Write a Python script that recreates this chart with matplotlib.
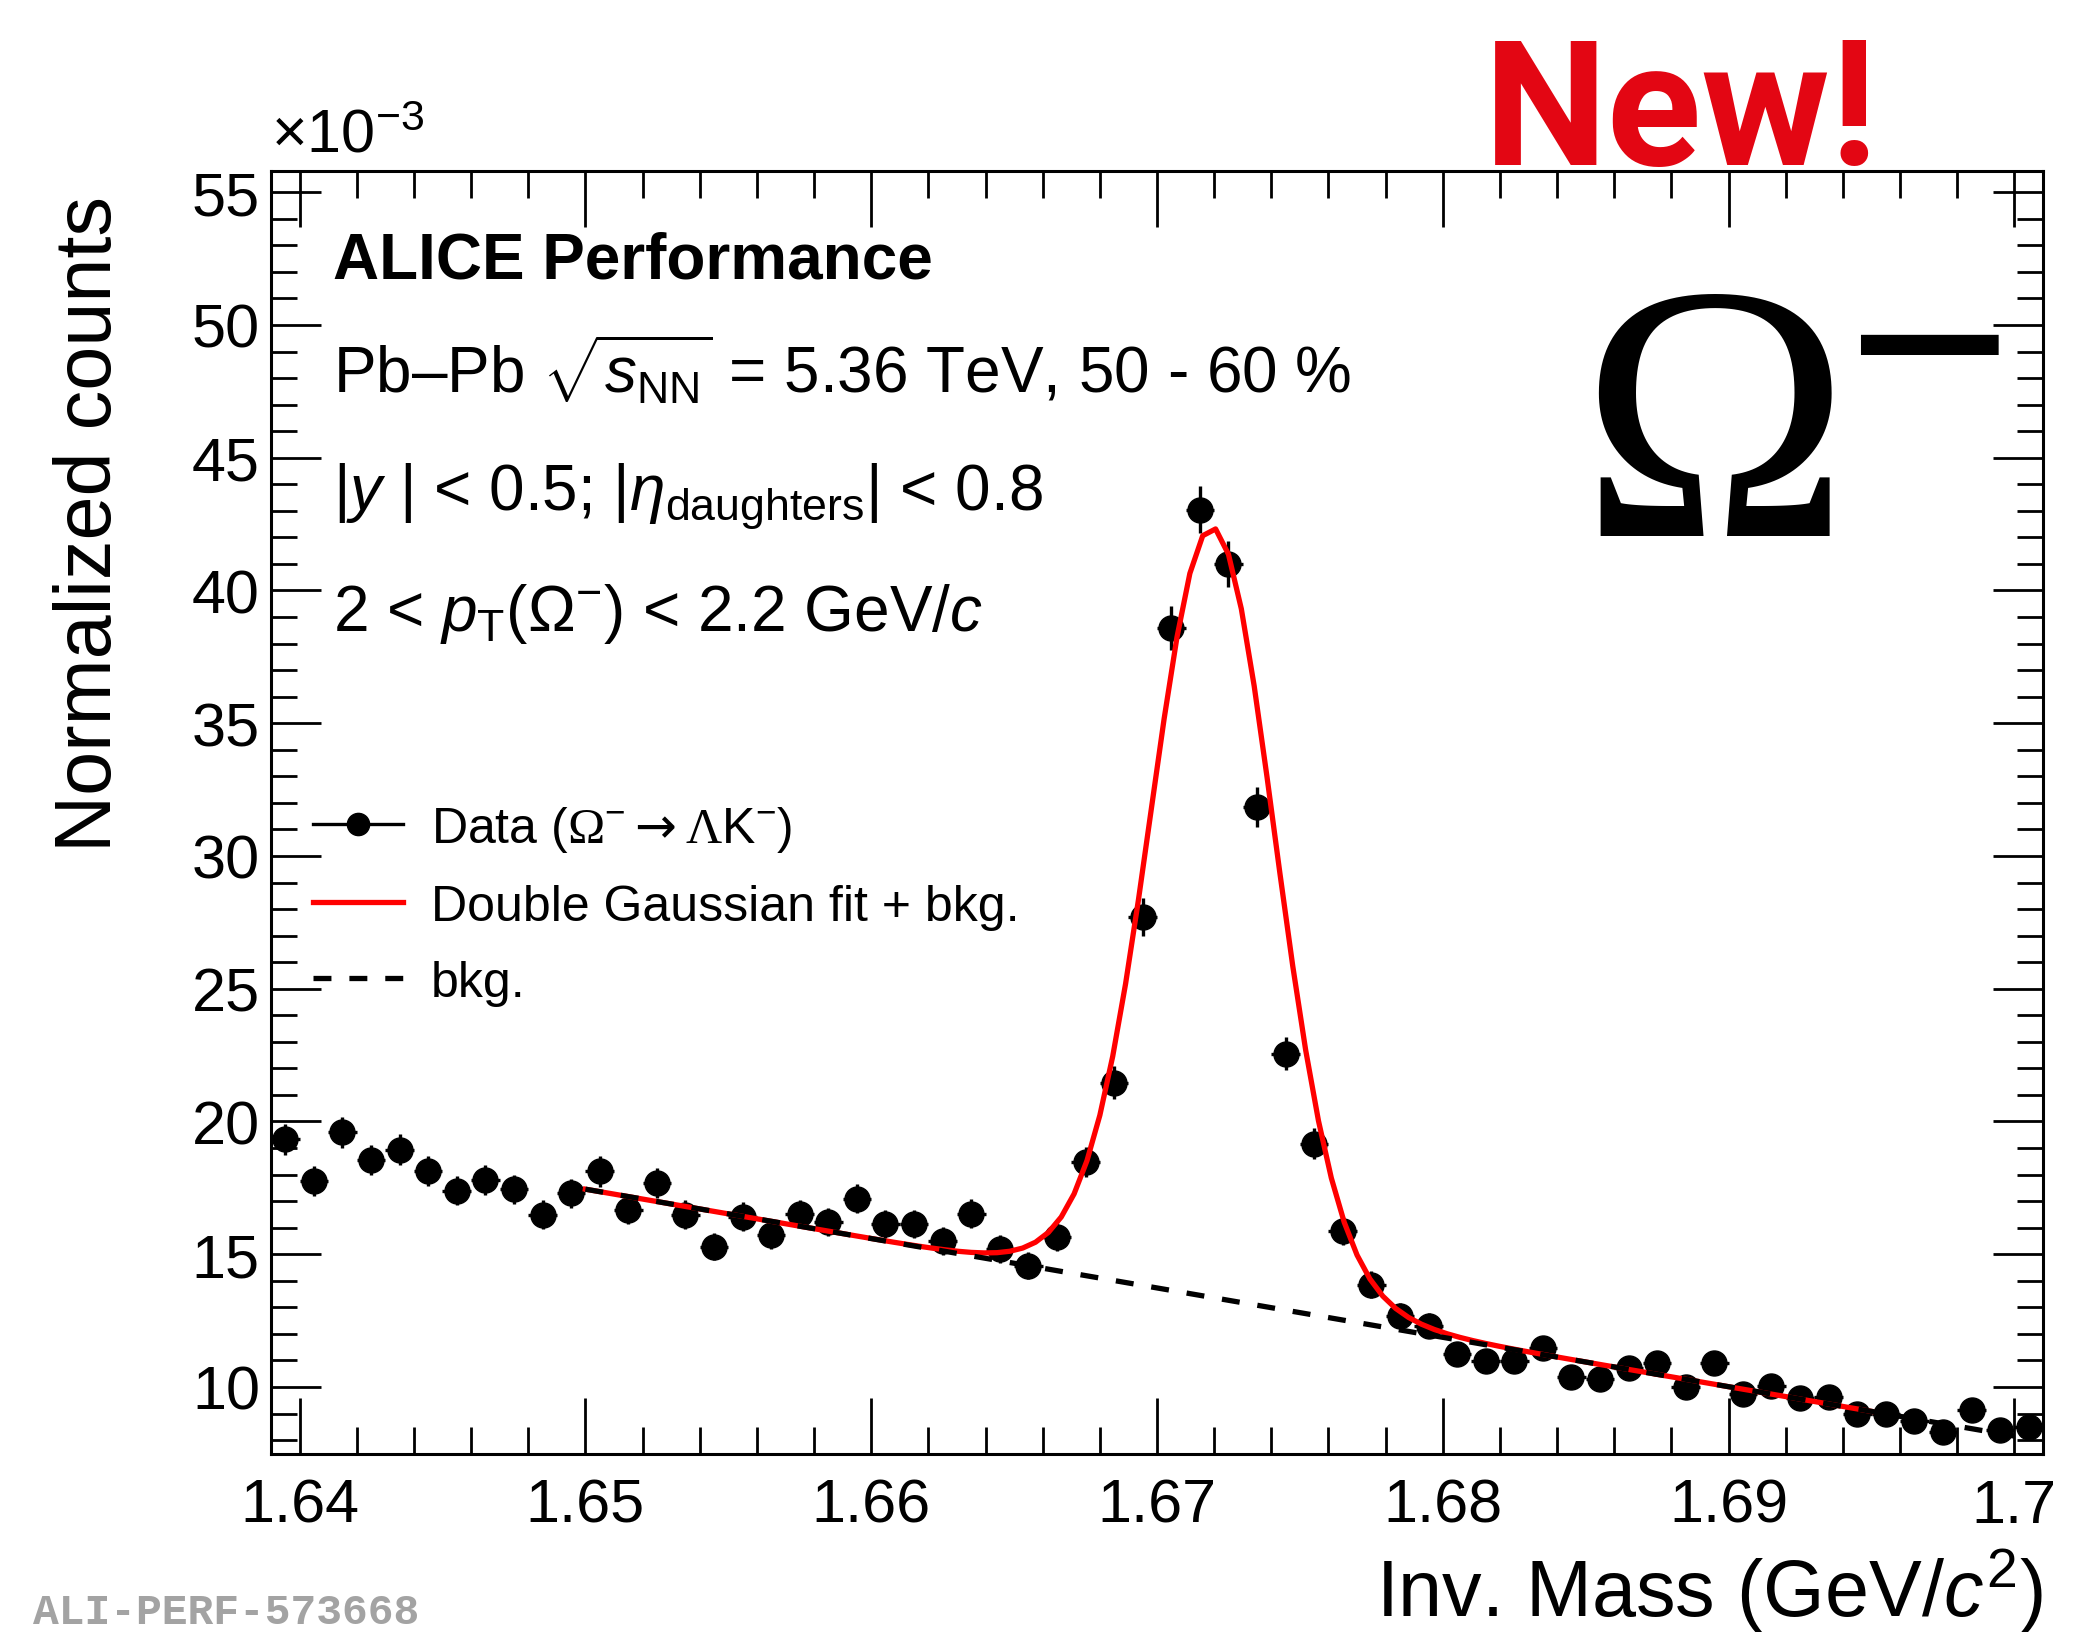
import numpy as np
import matplotlib
matplotlib.use("Agg")
import matplotlib.pyplot as plt
from matplotlib.lines import Line2D
from matplotlib.ticker import MultipleLocator, FormatStrFormatter

plt.rcParams['font.family'] = ['Liberation Sans', 'DejaVu Sans']
plt.rcParams['mathtext.fontset'] = 'custom'
plt.rcParams['mathtext.rm'] = 'Liberation Sans'
plt.rcParams['mathtext.it'] = 'Liberation Sans:italic'
plt.rcParams['mathtext.bf'] = 'Liberation Sans:bold'
plt.rcParams['mathtext.sf'] = 'Liberation Serif'
plt.rcParams['mathtext.cal'] = 'DejaVu Sans'

# --- invariant mass histogram (bin centres in GeV/c^2, counts x 1e-3) ---
mass = [1.6395, 1.6405, 1.6415, 1.6425, 1.6435, 1.6445, 1.6455, 1.6465,
        1.6475, 1.6485, 1.6495, 1.6505, 1.6515, 1.6525, 1.6535, 1.6545,
        1.6555, 1.6565, 1.6575, 1.6585, 1.6595, 1.6605, 1.6615, 1.6625,
        1.6635, 1.6645, 1.6655, 1.6665, 1.6675, 1.6685, 1.6695, 1.6705,
        1.6715, 1.6725, 1.6735, 1.6745, 1.6755, 1.6765, 1.6775, 1.6785,
        1.6795, 1.6805, 1.6815, 1.6825, 1.6835, 1.6845, 1.6855, 1.6865,
        1.6875, 1.6885, 1.6895, 1.6905, 1.6915, 1.6925, 1.6935, 1.6945,
        1.6955, 1.6965, 1.6975, 1.6985, 1.6995, 1.7005]
counts = [19.33, 17.77, 19.59, 18.56, 18.93, 18.14, 17.40, 17.80,
          17.45, 16.49, 17.30, 18.12, 16.68, 17.68, 16.49, 15.29,
          16.42, 15.73, 16.51, 16.21, 17.09, 16.13, 16.13, 15.50,
          16.53, 15.19, 14.56, 15.66, 18.48, 21.46, 27.70, 38.60,
          43.05, 41.00, 31.85, 22.55, 19.17, 15.88, 13.85, 12.68,
          12.31, 11.24, 10.96, 10.98, 11.47, 10.38, 10.29, 10.73,
          10.91, 10.00, 10.91, 9.73, 10.04, 9.60, 9.63, 8.98,
          9.00, 8.70, 8.29, 9.13, 8.38, 8.48]
errors = [0.58, 0.56, 0.59, 0.57, 0.58, 0.57, 0.55, 0.56,
          0.55, 0.54, 0.55, 0.57, 0.54, 0.56, 0.54, 0.52,
          0.54, 0.53, 0.54, 0.54, 0.55, 0.53, 0.53, 0.52,
          0.54, 0.52, 0.51, 0.53, 0.57, 0.62, 0.70, 0.83,
          0.87, 0.85, 0.75, 0.63, 0.58, 0.53, 0.50, 0.47,
          0.47, 0.45, 0.44, 0.44, 0.45, 0.43, 0.43, 0.44,
          0.44, 0.42, 0.44, 0.41, 0.42, 0.41, 0.41, 0.40,
          0.40, 0.39, 0.38, 0.40, 0.39, 0.39]
half_bin = 0.0005

# --- fit: double gaussian + linear background ---
fit_range = (1.650, 1.695)
bkg_range = (1.650, 1.700)
bkg_at_165 = 17.45
bkg_slope = -186.0
mu = 1.67195
amp1, sigma1 = 25.0, 0.0021
amp2, sigma2 = 4.0, 0.0032


def bkg(x):
    return bkg_at_165 + bkg_slope * (x - 1.65)


def signal_plus_bkg(x):
    g1 = amp1 * np.exp(-0.5 * ((x - mu) / sigma1) ** 2)
    g2 = amp2 * np.exp(-0.5 * ((x - mu) / sigma2) ** 2)
    return g1 + g2 + bkg(x)


fig = plt.figure(figsize=(20.74, 16.33), dpi=100)
ax = fig.add_axes([0.13067, 0.10900, 0.85438, 0.78567])

ax.errorbar(mass, counts, yerr=errors, xerr=half_bin, fmt='o', color='black',
            ms=18, elinewidth=2.4, capsize=0, zorder=2)

x_fit = np.linspace(fit_range[0], fit_range[1], 101)
ax.plot(x_fit, signal_plus_bkg(x_fit), color='red', lw=3.8, zorder=3)
x_bkg = np.linspace(bkg_range[0], bkg_range[1], 101)
ax.plot(x_bkg, bkg(x_bkg), color='black', lw=3.8, ls=(0, (3.4, 3.4)), zorder=4)

ax.set_xlim(1.639, 1.701)
ax.set_ylim(7.475, 55.8)

ax.xaxis.set_major_locator(MultipleLocator(0.01))
ax.xaxis.set_minor_locator(MultipleLocator(0.002))
ax.yaxis.set_major_locator(MultipleLocator(5))
ax.yaxis.set_minor_locator(MultipleLocator(1))
ax.xaxis.set_major_formatter(FormatStrFormatter('%g'))
ax.tick_params(which='both', direction='in', top=True, right=True, width=2.0,
               labelsize=44)
ax.tick_params(axis='x', which='major', length=40, pad=17)
ax.tick_params(axis='x', which='minor', length=19.5)
ax.tick_params(axis='y', which='major', length=36, pad=8)
ax.tick_params(axis='y', which='minor', length=19)
for s in ax.spines.values():
    s.set_linewidth(2.2)

ax.set_xlabel(r'Inv. Mass (GeV/$c^{2}$)', fontsize=57, loc='right')
ax.xaxis.set_label_coords(1.0, -0.106)
ax.xaxis.label.set_va('center')
ax.set_ylabel('Normalized counts', fontsize=57, loc='top')
ax.yaxis.set_label_coords(-0.1016, 0.981)
ax.yaxis.label.set_va('center')

ax.text(0.0, 1.005, r'$\times$10$^{-3}$', transform=ax.transAxes,
        fontsize=44, ha='left', va='bottom')

# header block
tx = 0.0349
ax.text(tx, 0.9167, 'ALICE Performance', transform=ax.transAxes,
        fontsize=46, fontweight='bold', va='baseline')
ax.text(tx, 0.8276, r'Pb–Pb $\sqrt{s_{\mathrm{NN}}}$ = 5.36 TeV, 50 - 60 %',
        transform=ax.transAxes, fontsize=46, va='baseline')
ax.text(tx, 0.736, r'|$y$ | < 0.5; |$\eta_{\mathrm{daughters}}$| < 0.8',
        transform=ax.transAxes, fontsize=46, va='baseline')
ax.text(tx, 0.642, r'2 < $p_{\mathrm{T}}$($\Omega^{-}$) < 2.2 GeV/$c$',
        transform=ax.transAxes, fontsize=46, va='baseline')

# particle label
ax.text(0.738, 0.716, 'Ω', transform=ax.transAxes, fontsize=262,
        family='Liberation Serif', ha='left', va='baseline')
ax.text(0.9357, 0.849, '−', transform=ax.transAxes, fontsize=204,
        ha='center', va='center')

handles = [
    Line2D([], [], color='black', lw=2.4, marker='o', ms=16),
    Line2D([], [], color='red', lw=3.8),
    Line2D([], [], color='black', lw=3.8, ls=(0, (3.4, 3.4))),
]
labels = [r'Data ($\mathsf{\Omega}^{-}\mathcal{\rightarrow}\mathsf{\Lambda}$K$^{-}$)',
          'Double Gaussian fit + bkg.', 'bkg.']
ax.legend(handles, labels, loc='upper left', bbox_to_anchor=(0.0237, 0.507),
          frameon=False, fontsize=36, handlelength=1.8, handletextpad=0.56,
          labelspacing=0.6, borderpad=0, borderaxespad=0)

fig.text(0.7155, 0.899, 'New!', color='#e30613', fontsize=126,
         family='Roboto', fontweight='bold', ha='left', va='baseline')
fig.text(0.016, 0.0, 'ALI-PERF-573668', color='#a3a3a3', fontsize=31,
         family='Liberation Mono', fontweight='bold', ha='left', va='bottom')

fig.savefig('out.png', dpi=100)
